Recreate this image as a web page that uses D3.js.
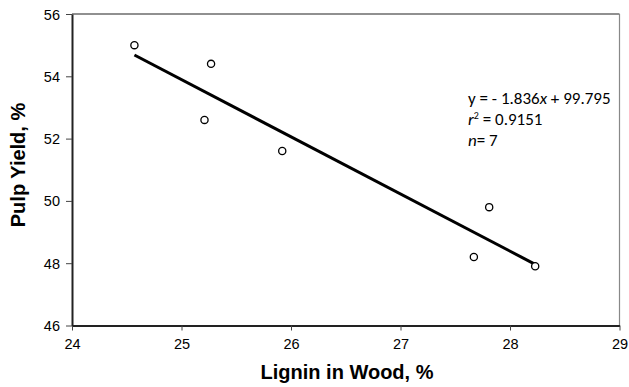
<!DOCTYPE html>
<html><head><meta charset="utf-8">
<script src="https://cdn.jsdelivr.net/npm/d3@7"></script>
<style>body{margin:0;background:#fff}svg{display:block}</style>
</head><body>
<script>
const lignin = [24.57, 25.27, 25.21, 25.92, 27.81, 27.67, 28.23];
const pulpYield = [55.0, 54.4, 52.6, 51.6, 49.8, 48.2, 47.9];
const xTicks = [24, 25, 26, 27, 28, 29];
const yTicks = [46, 48, 50, 52, 54, 56];
const slope = -1.836, intercept = 99.795;
const fitRange = [24.57, 28.23];

const W = 629, H = 387;
const svg = d3.select("body").append("svg").attr("width", W).attr("height", H);
const x = d3.scaleLinear().domain([24, 29]).range([72, 619.5]);
const y = d3.scaleLinear().domain([46, 56]).range([325.5, 14]);

// frame top/right
svg.append("line").attr("x1", 72).attr("x2", 619.5).attr("y1", 14).attr("y2", 14).attr("stroke", "#222").attr("stroke-width", 1.2);
svg.append("line").attr("x1", 619.5).attr("x2", 619.5).attr("y1", 14).attr("y2", 325.5).attr("stroke", "#888").attr("stroke-width", 1.2);

const xAxis = svg.append("g").attr("transform", "translate(0,325.5)")
  .call(d3.axisBottom(x).tickValues(xTicks).tickSize(5).tickSizeOuter(0).tickFormat(d3.format("d")));
const yAxis = svg.append("g").attr("transform", "translate(72,0)")
  .call(d3.axisLeft(y).tickValues(yTicks).tickSize(6).tickSizeOuter(0).tickFormat(d3.format("d")));
[xAxis, yAxis].forEach(g => {
  g.select(".domain").attr("stroke", "#222").attr("stroke-width", 2);
  g.selectAll(".tick line").attr("stroke", "#444").attr("stroke-width", 1);
  g.selectAll("text").attr("font-family", "Liberation Sans, Arial, sans-serif").attr("font-size", 14.5).attr("fill", "#000");
});
xAxis.selectAll("text").attr("dy", null).attr("y", 23);
yAxis.selectAll("text").attr("x", -12).attr("dy", "0.35em");

// trend line
svg.append("line")
  .attr("x1", x(fitRange[0])).attr("y1", y(slope * fitRange[0] + intercept))
  .attr("x2", x(fitRange[1])).attr("y2", y(slope * fitRange[1] + intercept))
  .attr("stroke", "#000").attr("stroke-width", 3);

// points
svg.selectAll("circle.pt").data(lignin.map((d, i) => [d, pulpYield[i]])).enter()
  .append("circle").attr("class", "pt")
  .attr("cx", d => x(d[0])).attr("cy", d => y(d[1])).attr("r", 3.6)
  .attr("fill", "#fff").attr("stroke", "#000").attr("stroke-width", 1.3);

// annotation
const ff = "Carlito, Calibri, 'Open Sans', sans-serif";
const a = svg.append("g").attr("font-family", ff).attr("font-size", 17).attr("fill", "#000");
const t1 = a.append("text").attr("x", 468).attr("y", 104);
t1.append("tspan").text("y = - 1.836");
t1.append("tspan").attr("font-style", "italic").text("x");
t1.append("tspan").text(" + 99.795");
const t2 = a.append("text").attr("x", 468).attr("y", 125);
t2.append("tspan").attr("font-style", "italic").text("r");
t2.append("tspan").attr("font-size", 10).attr("dy", -6).text("2");
t2.append("tspan").attr("dy", 6).text(" = 0.9151");
const t3 = a.append("text").attr("x", 468).attr("y", 146);
t3.append("tspan").attr("font-style", "italic").text("n");
t3.append("tspan").text("= 7");

// axis titles
svg.append("text").attr("x", 347).attr("y", 379).attr("text-anchor", "middle")
  .attr("font-family", "Liberation Sans, Arial, sans-serif").attr("font-weight", "bold").attr("font-size", 20)
  .text("Lignin in Wood, %");
svg.append("text").attr("transform", "translate(25,165) rotate(-90)").attr("text-anchor", "middle")
  .attr("font-family", "Liberation Sans, Arial, sans-serif").attr("font-weight", "bold").attr("font-size", 20)
  .text("Pulp Yield, %");
</script>
</body></html>
